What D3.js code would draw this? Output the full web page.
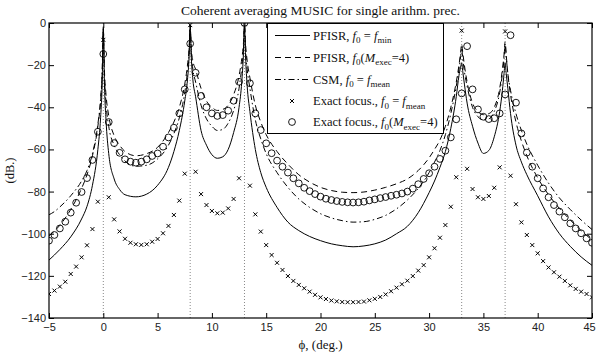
<!DOCTYPE html>
<html>
<head>
<meta charset="utf-8">
<script src="https://cdn.jsdelivr.net/npm/d3@7"></script>
<style>
  body { margin: 0; background: #fff; }
  svg { display: block; }
  .tick text { font-family: "Liberation Sans", Arial, sans-serif; font-size: 11px; fill: #222; }
  .serif { font-family: "Liberation Serif", "Times New Roman", serif; fill: #111; }
</style>
</head>
<body>
<svg id="chart" width="596" height="356"></svg>
<script>
// source directions (dotted verticals)
const sourceAngles = [0, 8, 13, 33, 37];
const xTicks = [-5, 0, 5, 10, 15, 20, 25, 30, 35, 40, 45];
const yTicks = [-140, -120, -100, -80, -60, -40, -20, 0];

// PFISR, f0 = fmin  (solid)
const pfisrMin = [
  [-5, -112.5], [-4, -107.5], [-3, -101.5], [-2, -93], [-1.5, -87], [-1, -77], [-0.5, -60],
  [-0.25, -45], [-0.1, -28], [0, -2], [0.1, -28], [0.25, -46], [0.5, -62], [1, -74],
  [1.5, -79], [2, -81.5], [3, -82.5], [4, -81.2], [5, -77], [6, -68.5], [6.5, -61], [7, -51],
  [7.5, -37], [7.75, -27], [7.9, -16], [8, -1], [8.1, -16], [8.25, -27], [8.5, -35], [9, -51],
  [9.5, -58], [10, -62.5], [10.5, -64.2], [11, -63.5], [11.5, -60], [12, -52], [12.5, -40],
  [12.75, -28], [12.9, -15], [13, -1], [13.1, -16], [13.25, -30], [13.5, -42], [14, -60],
  [14.5, -71], [15, -78], [16, -87.5], [17, -94.5], [18, -98.5], [19, -101.3], [20, -103.3],
  [21, -104.8], [22, -105.7], [23, -106.2], [24, -105.8], [25, -104.8], [26, -103], [27, -100],
  [28, -96.5], [29, -90], [30, -80.5], [30.5, -75], [31, -68.5], [31.5, -61], [32, -50],
  [32.5, -35], [32.75, -25], [32.9, -21], [33, -19], [33.1, -23], [33.25, -29], [33.5, -38],
  [34, -49], [34.5, -57], [35, -61.9], [35.5, -60.5], [36, -54], [36.5, -42], [36.75, -32],
  [36.9, -24], [37, -19], [37.1, -24], [37.25, -31], [37.5, -43], [38, -58], [38.5, -66],
  [39, -72], [40, -82], [41, -92], [42, -100], [43, -106], [44, -111], [45, -115]
];

// PFISR, f0(Mexec=4)  (dashed)
const pfisrM4 = [
  [-5, -101], [-4, -96], [-3, -88.5], [-2, -78.5], [-1.5, -72], [-1, -63], [-0.5, -49],
  [-0.25, -37], [-0.1, -24], [0, -3], [0.1, -22], [0.25, -34], [0.5, -44], [1, -53.5],
  [1.5, -58], [2, -61], [3, -63], [4, -62], [5, -59], [6, -52], [6.5, -47], [7, -40],
  [7.5, -29], [7.75, -20], [7.9, -12], [8, -1], [8.1, -12], [8.25, -18], [8.5, -22], [9, -31],
  [9.5, -37], [10, -40], [10.5, -41.5], [11, -41], [11.5, -39], [12, -34], [12.5, -25],
  [12.75, -17], [12.9, -10], [13, -1], [13.1, -10], [13.25, -18], [13.5, -26], [14, -39],
  [14.5, -47], [15, -53], [16, -61], [17, -67], [18, -72], [19, -75.5], [20, -78], [21, -79.5],
  [22, -80.3], [23, -80.5], [24, -80.2], [25, -79.3], [26, -78], [27, -76.3], [28, -74],
  [29, -70], [30, -64], [30.5, -60], [31, -55.5], [31.5, -49], [32, -40], [32.5, -28],
  [32.75, -20], [32.9, -14], [33, -10], [33.1, -14], [33.25, -20], [33.5, -28], [34, -38],
  [34.5, -42], [35, -43.5], [35.5, -43], [36, -40], [36.5, -31], [36.75, -22], [36.9, -15],
  [37, -9], [37.1, -15], [37.25, -24], [37.5, -34], [38, -47], [38.5, -56], [39, -63],
  [40, -73.5], [41, -81.5], [42, -88], [43, -93.5], [44, -98.5], [45, -103]
];

// CSM, f0 = fmean  (dash-dot)
const csmMean = [
  [-5, -91], [-4.5, -89.5], [-4, -87.3], [-3, -82], [-2, -75], [-1.5, -70], [-1, -62],
  [-0.5, -48], [-0.25, -36], [-0.1, -22], [0, -3], [0.1, -24], [0.25, -38], [0.5, -49],
  [1, -58], [1.5, -62.5], [2, -65.5], [3, -68], [4, -67.5], [5, -64.5], [6, -58], [6.5, -52.5],
  [7, -45], [7.5, -33], [7.75, -23], [7.9, -14], [8, -1], [8.1, -14], [8.25, -22], [8.5, -28],
  [9, -39], [9.5, -45.5], [10, -49], [10.5, -51], [11, -50.5], [11.5, -47.5], [12, -41.5],
  [12.5, -31], [12.75, -21], [12.9, -13], [13, -1], [13.1, -13], [13.25, -22], [13.5, -31],
  [14, -46], [14.5, -55], [15, -62], [16, -71], [17, -78], [18, -83.5], [19, -87.5],
  [20, -90.5], [21, -92.5], [22, -93.8], [23, -94.5], [24, -94.3], [25, -93.2], [26, -91.3],
  [27, -88.2], [28, -84], [29, -78.5], [30, -71], [30.5, -66], [31, -60.5], [31.5, -53],
  [32, -43], [32.5, -30], [32.75, -22], [32.9, -16], [33, -12], [33.1, -17], [33.25, -23],
  [33.5, -30], [34, -40], [34.5, -44.5], [35, -46], [35.5, -45.5], [36, -42], [36.5, -33],
  [36.75, -24], [36.9, -17], [37, -10], [37.1, -16], [37.25, -24], [37.5, -32], [38, -43],
  [38.5, -51], [39, -57.5], [40, -67.5], [41, -76], [42, -83], [43, -88.5], [44, -93.5], [45, -98]
];

// marker grid, every 0.5 deg from -5 to 45
const markerAngles = d3.range(-5, 45.25, 0.5);

// Exact focus., f0 = fmean  (x markers)
const exactMean = [
  -128.6, -127, -125.1, -122.8, -119.1, -115.6, -111.2, -105.5, -97.8, -84.8,
  -8, -82.7, -93.2, -98.9, -102.4, -104.3, -105, -105.3, -105, -103.8,
  -102.5, -99.8, -96.3, -91.1, -84.3, -71.5, -1, -70.6, -81.2, -86.4,
  -89.2, -90.3, -90, -88, -83.5, -73.7, -0.5, -77.2, -90.8, -99,
  -105.4, -110.1, -113.8, -117.2, -120.1, -122.4, -124.3, -125.9, -127.5, -129,
  -130.2, -131, -131.7, -132.1, -132.4, -132.5, -132.5, -132.4, -132.2, -131.6,
  -130.9, -130, -128.8, -127.3, -125.6, -124, -122.3, -120.1, -117.5, -114.9,
  -111.2, -106.9, -101.9, -95.9, -87.2, -73.2, -3.6, -69.2, -78.8, -82.7,
  -83.5, -82.1, -78.2, -68.5, -4, -72.5, -86, -94.6, -100.6, -105.4,
  -109.3, -113, -116, -118.3, -120.4, -122.4, -124.5, -126.2, -127.5, -128.6,
  -130.2
];

// Exact focus., f0(Mexec=4)  (circles)
const exactM4 = [
  -103.3, -100.6, -97.5, -94.3, -90, -85.3, -80.2, -73.6, -65, -51.6,
  -14.7, -47, -57, -61.6, -64.7, -65.8, -66.3, -65.8, -64.7, -63.1,
  -61.9, -58.7, -54.3, -49.7, -42.9, -31.5, -9.8, -23.6, -34.6, -40,
  -42.9, -44.1, -43.7, -41.6, -36.9, -27.9, 0, -28.6, -42.9, -50.8,
  -57.1, -61.8, -65.3, -68.2, -71, -73.7, -76.1, -78.2, -79.8, -81.2,
  -82.4, -83.4, -84, -84.5, -84.9, -85.1, -85.2, -85.1, -84.8, -84.2,
  -83.7, -83.1, -82.6, -82, -81.5, -80.9, -80, -78.6, -76.5, -74,
  -71.3, -68.2, -64.5, -60.6, -54.3, -45.7, -33.4, -11, -31.5, -41,
  -44.5, -45.6, -45.2, -42.9, -33.9, -5.8, -37.8, -52.4, -61.5, -68.2,
  -73.7, -78.5, -82.7, -86.4, -89.5, -92.2, -95.1, -97.5, -99.8, -102.2,
  -104.3, -106.5
];

const margin = { left: 49, right: 4, top: 23, bottom: 38 };
const W = 596, H = 356;

const svg = d3.select("#chart");

const x = d3.scaleLinear().domain([-5, 45]).range([margin.left, W - margin.right]);
const y = d3.scaleLinear().domain([-140, 0]).range([H - margin.bottom, margin.top]);

svg.append("defs").append("clipPath").attr("id", "plotClip")
  .append("rect")
  .attr("x", x(-5)).attr("y", y(0))
  .attr("width", x(45) - x(-5)).attr("height", y(-140) - y(0));

const plot = svg.append("g").attr("clip-path", "url(#plotClip)");

// dotted source lines
plot.selectAll(".src")
  .data(sourceAngles)
  .join("line")
  .attr("class", "src")
  .attr("x1", d => x(d)).attr("x2", d => x(d))
  .attr("y1", y(0)).attr("y2", y(-140))
  .attr("stroke", "#888")
  .attr("stroke-width", 1)
  .attr("stroke-dasharray", "1,2");

const line = d3.line()
  .x(d => x(d[0]))
  .y(d => y(d[1]))
  .curve(d3.curveMonotoneX);

const lineSeries = [
  { data: pfisrMin, dash: null },
  { data: pfisrM4, dash: "6,4" },
  { data: csmMean, dash: "6,3,1.5,3" }
];

lineSeries.forEach(s => {
  plot.append("path")
    .datum(s.data)
    .attr("fill", "none")
    .attr("stroke", "#000")
    .attr("stroke-width", 1)
    .attr("stroke-dasharray", s.dash)
    .attr("d", line);
});

// x markers
const crossPath = "M-2,-2L2,2M-2,2L2,-2";
plot.selectAll(".xm")
  .data(markerAngles.map((a, i) => [a, exactMean[i]]))
  .join("path")
  .attr("class", "xm")
  .attr("transform", d => `translate(${x(d[0])},${y(d[1])})`)
  .attr("d", crossPath)
  .attr("stroke", "#000")
  .attr("stroke-width", 1)
  .attr("fill", "none");

// circle markers
plot.selectAll(".om")
  .data(markerAngles.map((a, i) => [a, exactM4[i]]))
  .join("circle")
  .attr("class", "om")
  .attr("cx", d => x(d[0]))
  .attr("cy", d => y(d[1]))
  .attr("r", 3.4)
  .attr("fill", "none")
  .attr("stroke", "#000")
  .attr("stroke-width", 0.9);

// axes, matlab style: ticks inside on all four sides
const axes = svg.append("g");
axes.append("g")
  .attr("transform", `translate(0,${y(-140)})`)
  .call(d3.axisBottom(x).tickValues(xTicks).tickSizeInner(-5).tickSizeOuter(0).tickPadding(5))
  .selectAll(".tick text")
  .attr("dx", d => d === 45 ? -3 : 0);
axes.append("g")
  .attr("transform", `translate(0,${y(0)})`)
  .call(d3.axisTop(x).tickValues(xTicks).tickSizeInner(-5).tickSizeOuter(0).tickFormat(""));
axes.append("g")
  .attr("transform", `translate(${x(-5)},0)`)
  .call(d3.axisLeft(y).tickValues(yTicks).tickSizeInner(-5).tickSizeOuter(0).tickPadding(3));
axes.append("g")
  .attr("transform", `translate(${x(45)},0)`)
  .call(d3.axisRight(y).tickValues(yTicks).tickSizeInner(-5).tickSizeOuter(0).tickFormat(""));
axes.selectAll(".domain").remove();
axes.selectAll(".tick line").attr("stroke", "#000");

svg.append("rect")
  .attr("x", x(-5)).attr("y", y(0))
  .attr("width", x(45) - x(-5)).attr("height", y(-140) - y(0))
  .attr("fill", "none")
  .attr("stroke", "#000")
  .attr("stroke-width", 1.2);

// title and axis labels
svg.append("text")
  .attr("class", "serif")
  .attr("x", (x(-5) + x(45)) / 2)
  .attr("y", 15)
  .attr("text-anchor", "middle")
  .attr("font-size", 13.5)
  .text("Coherent averaging MUSIC for single arithm. prec.");

svg.append("text")
  .attr("class", "serif")
  .attr("x", (x(-5) + x(45)) / 2)
  .attr("y", 349)
  .attr("text-anchor", "middle")
  .attr("font-size", 13)
  .text("ϕ, (deg.)");

svg.append("text")
  .attr("class", "serif")
  .attr("transform", `translate(14,${(y(0) + y(-140)) / 2}) rotate(-90)`)
  .attr("text-anchor", "middle")
  .attr("font-size", 12.5)
  .text("(dB.)");

// legend
const legendItems = [
  { type: "line", dash: null, parts: [["PFISR, "], ["f", "i"], ["0", "sub"], [" = "], ["f", "i"], ["min", "sub"]] },
  { type: "line", dash: "6,4", parts: [["PFISR, "], ["f", "i"], ["0", "sub"], ["("], ["M", "i"], ["exec", "sub"], ["=4)"]] },
  { type: "line", dash: "6,3,1.5,3", parts: [["CSM, "], ["f", "i"], ["0", "sub"], [" = "], ["f", "i"], ["mean", "sub"]] },
  { type: "x", parts: [["Exact focus., "], ["f", "i"], ["0", "sub"], [" = "], ["f", "i"], ["mean", "sub"]] },
  { type: "o", parts: [["Exact focus., "], ["f", "i"], ["0", "sub"], ["("], ["M", "i"], ["exec", "sub"], ["=4)"]] }
];

const legend = svg.append("g");
legend.append("rect")
  .attr("x", 267.5).attr("y", 23.5)
  .attr("width", 176).attr("height", 110)
  .attr("fill", "#fff")
  .attr("stroke", "#000")
  .attr("stroke-width", 1);

const rowY = [35.5, 57.5, 79.5, 101, 122];
legendItems.forEach((it, i) => {
  const ly = rowY[i];
  if (it.type === "line") {
    legend.append("line")
      .attr("x1", 275).attr("x2", 310)
      .attr("y1", ly).attr("y2", ly)
      .attr("stroke", "#000")
      .attr("stroke-width", 1)
      .attr("stroke-dasharray", it.dash);
  } else if (it.type === "x") {
    legend.append("path")
      .attr("transform", `translate(292,${ly})`)
      .attr("d", crossPath)
      .attr("stroke", "#000")
      .attr("fill", "none");
  } else {
    legend.append("circle")
      .attr("cx", 292).attr("cy", ly).attr("r", 3.4)
      .attr("fill", "none").attr("stroke", "#000").attr("stroke-width", 0.9);
  }
  const t = legend.append("text")
    .attr("class", "serif")
    .attr("x", 313)
    .attr("y", ly + 4)
    .attr("font-size", 12.5);
  let shifted = false;
  it.parts.forEach(([txt, st]) => {
    const ts = t.append("tspan").text(txt);
    if (st === "i") ts.attr("font-style", "italic");
    if (st === "sub") {
      ts.attr("font-size", 9).attr("dy", shifted ? 0 : 3.5);
      shifted = true;
    } else if (shifted) {
      ts.attr("dy", -3.5);
      shifted = false;
    }
  });
});
</script>
</body>
</html>
